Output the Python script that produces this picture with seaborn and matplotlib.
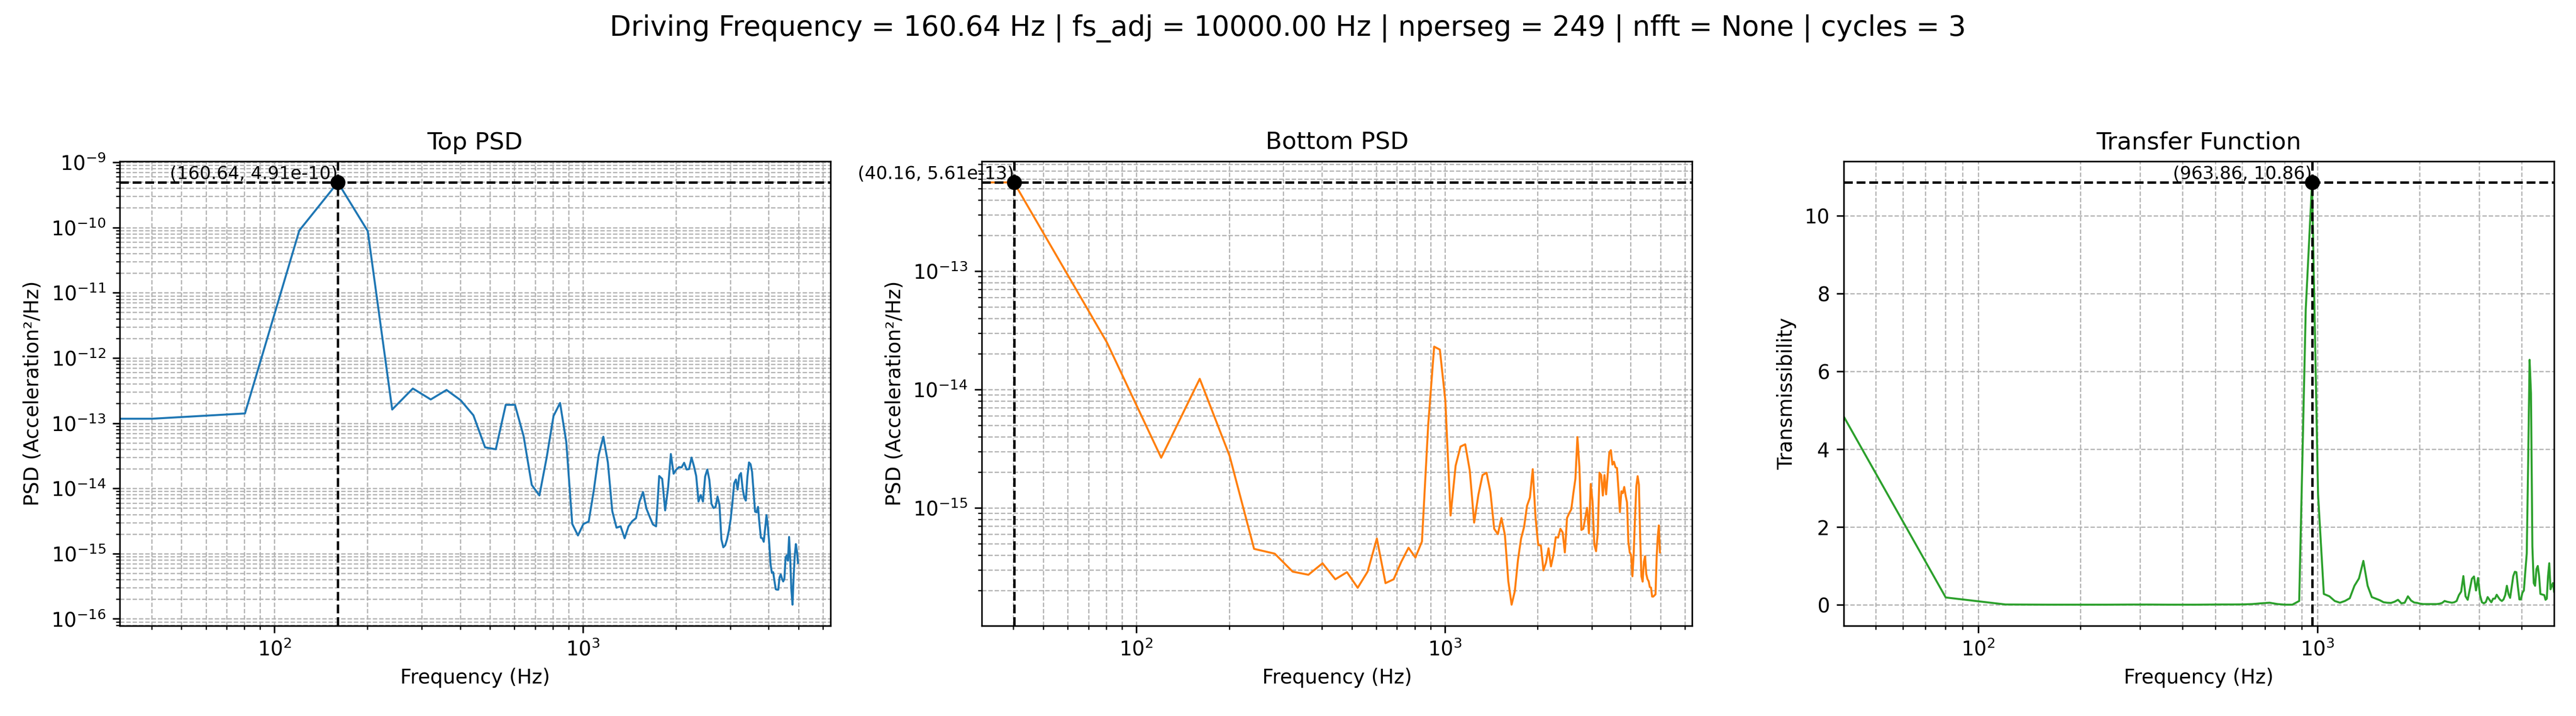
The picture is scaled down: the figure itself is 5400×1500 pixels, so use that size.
import numpy as np
import pandas as pd
import matplotlib
matplotlib.use('Agg')
import matplotlib.pyplot as plt
import seaborn as sns

# run settings shown in the title
driving_freq = 160.64
fs_adj = 10000.0
nperseg = 249
nfft = None
cycles = 3

# Welch PSD of top accelerometer, one value per bin (bin 0 = DC)
top_psd = [
    1.1e-13,
    1.17e-13, 1.41e-13, 9.0e-11, 4.91e-10, 8.8e-11, 1.62e-13, 3.4e-13, 2.31e-13, 3.23e-13, 2.25e-13,
    1.32e-13, 4.26e-14, 3.98e-14, 1.91e-13, 1.91e-13, 6.3e-14, 1.13e-14, 7.8e-15, 2.97e-14, 1.29e-13,
    2.04e-13, 5.1e-14, 2.85e-15, 1.9e-15, 2.85e-15, 3.1e-15, 9.2e-15, 3.23e-14, 6.2e-14, 2.5e-14,
    4.5e-15, 2.5e-15, 2.62e-15, 1.72e-15, 2.62e-15, 3.15e-15, 3.5e-15, 6.3e-15, 8.8e-15, 4.9e-15,
    3.66e-15, 2.8e-15, 2.62e-15, 1.55e-14, 1.4e-14, 4.6e-15, 1.0e-14, 3.37e-14, 1.68e-14, 1.95e-14,
    2.12e-14, 2.1e-14, 2.47e-14, 1.95e-14, 1.98e-14, 2.97e-14, 2.21e-14, 1.55e-14, 6.3e-15, 7.9e-15,
    6.3e-15, 1.52e-14, 1.95e-14, 1.34e-14, 5.8e-15, 5.0e-15, 5.2e-15, 7.5e-15, 5.6e-15, 1.65e-15,
    1.25e-15, 1.34e-15, 1.65e-15, 2.25e-15, 3.37e-15, 6.05e-15, 1.2e-14, 1.37e-14, 9.6e-15, 1.57e-14,
    1.72e-14, 1.0e-14, 7.3e-15, 6.5e-15, 1.52e-14, 2.5e-14, 2.35e-14, 1.8e-14, 8.8e-15, 4.4e-15,
    4.3e-15, 5.2e-15, 2.85e-15, 1.75e-15, 1.72e-15, 1.52e-15, 2.41e-15, 3.9e-15, 2.62e-15, 1.46e-15,
    6.9e-16, 5.1e-16, 5.2e-16, 3.8e-16, 2.85e-16, 2.8e-16, 2.8e-16, 4.3e-16, 4.8e-16, 4.15e-16,
    3.75e-16, 4.1e-16, 8.7e-16, 9.4e-16, 7.8e-16, 1.8e-15, 8.1e-16, 2.73e-16, 1.65e-16, 4.5e-16,
    9.2e-16, 1.4e-15, 1.09e-15, 7.2e-16,
]

# Welch PSD of bottom accelerometer
bottom_psd = [
    4.0e-13,
    5.61e-13, 2.5e-14, 2.65e-15, 1.23e-14, 2.74e-15, 4.5e-16, 4.1e-16, 2.89e-16, 2.72e-16, 3.4e-16,
    2.49e-16, 2.86e-16, 2.11e-16, 2.89e-16, 5.5e-16, 2.31e-16, 2.49e-16, 3.5e-16, 4.6e-16, 3.8e-16,
    5.2e-16, 5.0e-15, 2.3e-14, 2.17e-14, 8.1e-15, 8.6e-16, 2.27e-15, 3.29e-15, 3.44e-15, 2.07e-15,
    7.5e-16, 1.29e-15, 1.89e-15, 1.98e-15, 1.36e-15, 6.65e-16, 6.0e-16, 8.2e-16, 5.9e-16, 2.4e-16,
    1.52e-16, 1.98e-16, 3.64e-16, 5.5e-16, 6.9e-16, 1.04e-15, 1.22e-15, 2.12e-15, 8.4e-16, 4.85e-16,
    4.8e-16, 2.96e-16, 3.45e-16, 4.55e-16, 3.2e-16, 4.0e-16, 5.65e-16, 5.6e-16, 6.65e-16, 6.2e-16,
    4.2e-16, 8.2e-16, 9.0e-16, 9.7e-16, 1.33e-15, 1.76e-15, 3.96e-15, 2.22e-15, 6.5e-16, 6.65e-16,
    8.2e-16, 1.0e-15, 6.1e-16, 1.59e-15, 1.13e-15, 4.9e-16, 4.3e-16, 6.2e-16, 1.98e-15, 1.89e-15,
    1.27e-15, 1.89e-15, 1.3e-15, 1.93e-15, 2.93e-15, 3.07e-15, 2.32e-15, 2.45e-15, 2.2e-15, 2.17e-15,
    1.43e-15, 9.2e-16, 1.38e-15, 1.33e-15, 1.5e-15, 1.27e-15, 1.11e-15, 5.15e-16, 4.2e-16, 4.0e-16,
    2.64e-16, 4.2e-16, 8.4e-16, 1.53e-15, 1.85e-15, 1.57e-15, 5.8e-16, 2.64e-16, 2.38e-16, 3.48e-16,
    3.9e-16, 2.76e-16, 2.5e-16, 2.4e-16, 2.14e-16, 2.12e-16, 1.78e-16, 1.78e-16, 1.82e-16, 1.86e-16,
    3.8e-16, 5.65e-16, 7.1e-16, 4.2e-16,
]

# transmissibility bottom / top
transfer = [
    4.9,
    4.85, 0.19, 0.01, 0.005, 0.005, 0.005, 0.008, 0.008, 0.005, 0.005,
    0.005, 0.008, 0.01, 0.01, 0.012, 0.02, 0.04, 0.055, 0.02, 0.005,
    0.005, 0.1, 7.6, 10.86, 2.85, 0.28, 0.22, 0.1, 0.055, 0.1,
    0.17, 0.49, 0.68, 1.13, 0.49, 0.2, 0.16, 0.12, 0.067, 0.055,
    0.05, 0.08, 0.13, 0.04, 0.055, 0.22, 0.11, 0.06, 0.05, 0.03,
    0.02, 0.02, 0.02, 0.02, 0.02, 0.02, 0.03, 0.05, 0.1, 0.08,
    0.067, 0.055, 0.067, 0.1, 0.25, 0.34, 0.74, 0.22, 0.13, 0.4,
    0.67, 0.73, 0.37, 0.69, 0.25, 0.067, 0.04, 0.07, 0.2, 0.13,
    0.067, 0.16, 0.16, 0.26, 0.19, 0.13, 0.1, 0.14, 0.25, 0.49,
    0.28, 0.18, 0.46, 0.74, 0.85, 0.84, 0.46, 0.14, 0.14, 0.31,
    0.37, 0.86, 1.32, 3.7, 6.3, 5.44, 1.5, 0.56, 0.49, 0.92,
    1.0, 0.74, 0.28, 0.27, 0.26, 0.25, 0.13, 0.16, 0.74, 1.07,
    0.4, 0.49, 0.56, 0.34,
]

# welch frequency bins
freqs = np.arange(len(top_psd)) * fs_adj / nperseg

df = pd.DataFrame({'freq': freqs, 'top': top_psd, 'bottom': bottom_psd, 'transfer': transfer})

panels = [
    ('top', 'Top PSD', 'PSD (Acceleration²/Hz)', '#1f77b4', True),
    ('bottom', 'Bottom PSD', 'PSD (Acceleration²/Hz)', '#ff7f0e', True),
    ('transfer', 'Transfer Function', 'Transmissibility', '#2ca02c', False),
]

fig, axes = plt.subplots(1, 3, figsize=(18, 5))

for ax, (col, title, ylabel, color, is_psd) in zip(axes, panels):
    sns.lineplot(data=df, x='freq', y=col, ax=ax, color=color, linewidth=1,
                 estimator=None, errorbar=None, sort=False)
    ax.set_xscale('log')
    if is_psd:
        ax.set_yscale('log')
    else:
        ax.set_xlim(freqs[1], freqs[-1])

    # mark the peak
    i = int(np.argmax(df[col].values))
    pf, pv = df['freq'].iloc[i], df[col].iloc[i]
    ax.axhline(pv, color='k', linestyle='--', linewidth=1.2)
    ax.axvline(pf, color='k', linestyle='--', linewidth=1.2)
    ax.plot(pf, pv, 'ko', markersize=6.5)
    label = f'({pf:.2f}, {pv:.2e})' if is_psd else f'({pf:.2f}, {pv:.2f})'
    ax.text(pf, pv, label, ha='right', va='bottom', fontsize=9)

    ax.set_title(title, fontsize=12)
    ax.set_xlabel('Frequency (Hz)', fontsize=10)
    ax.set_ylabel(ylabel, fontsize=10)
    ax.grid(True, which='both', linestyle='--', linewidth=0.6, color='#b0b0b0')

fig.suptitle(f'Driving Frequency = {driving_freq:.2f} Hz | fs_adj = {fs_adj:.2f} Hz | '
             f'nperseg = {nperseg} | nfft = {nfft} | cycles = {cycles}', fontsize=14)
fig.subplots_adjust(left=0.0465, right=0.9915, bottom=0.126, top=0.7747, wspace=0.213)
fig.savefig('out.png', dpi=300)
